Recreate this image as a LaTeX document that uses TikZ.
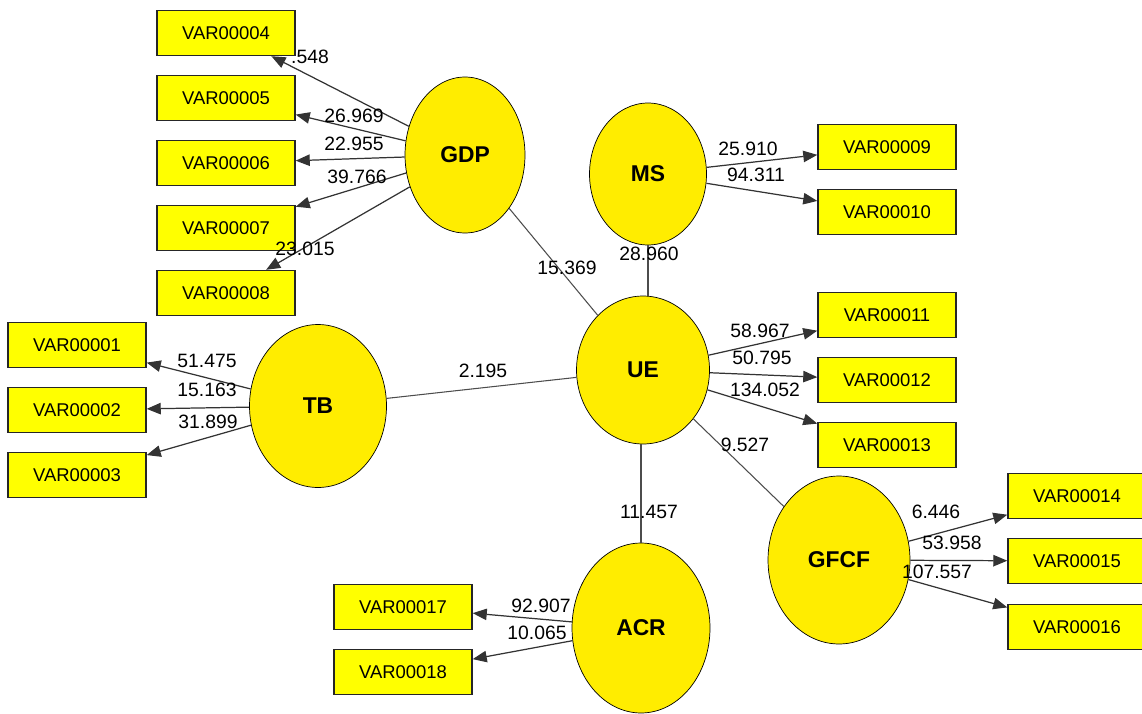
\documentclass[tikz,border=0pt]{standalone}
\usepackage{fontspec}
\setmainfont{Liberation Sans}
\usetikzlibrary{shapes.geometric,arrows.meta}
\definecolor{lvyellow}{RGB}{255,237,0}
\definecolor{mvyellow}{RGB}{255,255,0}
\begin{document}
\begin{tikzpicture}[x=.02cm,y=-.02cm,
  lv/.style={ellipse,draw=black,fill=lvyellow,inner sep=0,font=\fontsize{13}{15}\selectfont\bfseries},
  mv/.style={rectangle,draw=black!85,line width=.8pt,fill=mvyellow,minimum width=2.76cm,minimum height=.9cm,inner sep=0,font=\fontsize{10.5}{12}\selectfont},
  wt/.style={inner sep=0,font=\fontsize{11}{13}\selectfont},
  ld/.style={draw=black!80,line width=.7pt,-{Triangle[length=8pt,width=6.5pt]}},
  pth/.style={draw=black!70,line width=.6pt}]
\useasboundingbox (0,0) rectangle (1142,713);

\node[name=GDP,lv,minimum width=2.4cm,minimum height=3.12cm] at (465,155) {GDP};
\node[name=MS,lv,minimum width=2.34cm,minimum height=2.84cm] at (648,174) {MS};
\node[name=UE,lv,minimum width=2.66cm,minimum height=2.96cm] at (643,370) {UE};
\node[name=TB,lv,minimum width=2.74cm,minimum height=3.26cm] at (318,406) {TB};
\node[name=GFCF,lv,minimum width=2.84cm,minimum height=3.36cm] at (839,560) {GFCF};
\node[name=ACR,lv,minimum width=2.76cm,minimum height=3.4cm] at (641,628) {ACR};

\node[name=V4,mv] at (226,33) {VAR00004};
\node[name=V5,mv] at (226,98) {VAR00005};
\node[name=V6,mv] at (226,163) {VAR00006};
\node[name=V7,mv] at (226,228) {VAR00007};
\node[name=V8,mv] at (226,293) {VAR00008};
\node[name=V1,mv] at (77,345) {VAR00001};
\node[name=V2,mv] at (77,410) {VAR00002};
\node[name=V3,mv] at (77,475) {VAR00003};
\node[name=V9,mv] at (887,147) {VAR00009};
\node[name=V10,mv] at (887,212) {VAR00010};
\node[name=V11,mv] at (887,315) {VAR00011};
\node[name=V12,mv] at (887,380) {VAR00012};
\node[name=V13,mv] at (887,445) {VAR00013};
\node[name=V14,mv] at (1077,496) {VAR00014};
\node[name=V15,mv] at (1077,561) {VAR00015};
\node[name=V16,mv] at (1077,627) {VAR00016};
\node[name=V17,mv] at (403,607) {VAR00017};
\node[name=V18,mv] at (403,672) {VAR00018};

% inner model
\draw[pth] (GDP) to (UE);
\draw[pth] (MS.south) -- (MS.south |- UE.north);
\draw[pth] (TB) to (UE);
\draw[pth] (UE) to (GFCF);
\draw[pth] (ACR.north) -- (ACR.north |- UE.south);

% outer model
\draw[ld] (GDP) to (V4);
\draw[ld] (GDP) to (V5);
\draw[ld] (GDP) to (V6);
\draw[ld] (GDP) to (V7);
\draw[ld] (GDP) to (V8);
\draw[ld] (TB) to (V1);
\draw[ld] (TB) to (V2);
\draw[ld] (TB) to (V3);
\draw[ld] (MS) to (V9);
\draw[ld] (MS) to (V10);
\draw[ld] (UE) to (V11);
\draw[ld] (UE) to (V12);
\draw[ld] (UE) to (V13);
\draw[ld] (GFCF) to (V14);
\draw[ld] (GFCF) to (V15);
\draw[ld] (GFCF) to (V16);
\draw[ld] (ACR) to (V17);
\draw[ld] (ACR) to (V18);

\node[name=w4,wt] at (310,57) {.548};
\node[name=w5,wt] at (354,116) {26.969};
\node[name=w6,wt] at (354,144) {22.955};
\node[name=w7,wt] at (357,177) {39.766};
\node[name=w8,wt] at (305,249) {23.015};
\node[name=w1,wt] at (207,361) {51.475};
\node[name=w2,wt] at (207,390) {15.163};
\node[name=w3,wt] at (208,422) {31.899};
\node[name=w9,wt] at (748,149) {25.910};
\node[name=w10,wt] at (756,175) {94.311};
\node[name=w11,wt] at (760,331) {58.967};
\node[name=w12,wt] at (762,358) {50.795};
\node[name=w13,wt] at (765,390) {134.052};
\node[name=w14,wt] at (936,512) {6.446};
\node[name=w15,wt] at (952,543) {53.958};
\node[name=w16,wt] at (937,572) {107.557};
\node[name=w17,wt] at (541,606) {92.907};
\node[name=w18,wt] at (537,633) {10.065};
\node[name=bMS,wt] at (649,254) {28.960};
\node[name=bGDP,wt] at (567,268) {15.369};
\node[name=bTB,wt] at (483,371) {2.195};
\node[name=bGFCF,wt] at (745,445) {9.527};
\node[name=bACR,wt] at (649,512) {11.457};
\end{tikzpicture}
\end{document}
